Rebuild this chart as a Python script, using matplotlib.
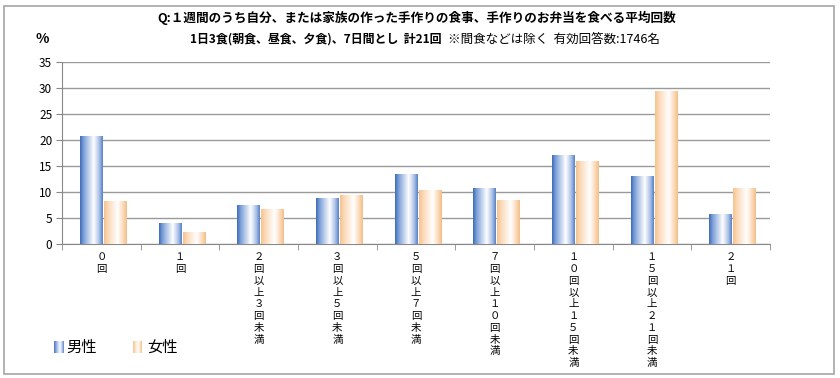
import numpy as np
import matplotlib
matplotlib.use("Agg")
import matplotlib.pyplot as plt
from matplotlib.colors import LinearSegmentedColormap
from matplotlib.patches import Rectangle

plt.rcParams['font.family'] = ['Noto Sans CJK JP', 'DejaVu Sans']

categories = ["０回", "１回", "２回以上３回未満", "３回以上５回未満", "５回以上７回未満",
              "７回以上１０回未満", "１０回以上１５回未満", "１５回以上２１回未満", "２１回"]
male = [20.6, 3.9, 7.5, 8.8, 13.4, 10.6, 17.1, 12.9, 5.7]
female = [8.1, 2.3, 6.7, 9.4, 10.2, 8.4, 15.8, 29.4, 10.6]
series_names = ["男性", "女性"]
yticks = [0, 5, 10, 15, 20, 25, 30, 35]

W, H = 840, 378
fig = plt.figure(figsize=(W / 100, H / 100), dpi=100)
fig.patch.set_facecolor("white")

# outer frame
fig.add_artist(Rectangle((4 / W, 4 / H), 830 / W, 368 / H, transform=fig.transFigure,
                         fill=False, edgecolor="#a6a6a6", lw=1.2))

ax = fig.add_axes([62 / W, 1 - 244 / H, (770 - 62) / W, (244 - 62) / H])

x = np.arange(len(categories))
bw = 0.28
bars_m = ax.bar(x - bw / 2 - 0.012 + 0.02, male, width=bw, color="none", edgecolor="none", zorder=3)
bars_f = ax.bar(x + bw / 2 + 0.012 + 0.02, female, width=bw, color="none", edgecolor="none", zorder=3)

cm_m = LinearSegmentedColormap.from_list("m", [(0, "#3f6cb6"), (0.15, "#7b9fd8"), (0.6, "#ffffff"), (0.85, "#a9c0e6"), (1.0, "#5581c6")])
cm_f = LinearSegmentedColormap.from_list("f", [(0, "#f6c28f"), (0.2, "#fbdcbc"), (0.6, "#ffffff"), (0.85, "#fbd9b6"), (1.0, "#f4bd88")])
grad = np.linspace(0, 1, 64).reshape(1, -1)

for bars, cm in ((bars_m, cm_m), (bars_f, cm_f)):
    for b in bars:
        x0, y0 = b.get_x(), b.get_y()
        w, h = b.get_width(), b.get_height()
        ax.imshow(grad, cmap=cm, extent=(x0, x0 + w, y0, y0 + h), aspect="auto",
                  interpolation="bicubic", zorder=3)

ax.set_xlim(-0.5, len(categories) - 0.5)
ax.set_ylim(0, 35)
ax.set_yticks(yticks)
ax.tick_params(axis="y", labelsize=8.5, length=4, color="#888888", pad=3)
ax.yaxis.grid(True, color="#9a9a9a", lw=1)
ax.set_axisbelow(True)
for s in ("top", "right"):
    ax.spines[s].set_visible(False)
ax.spines["left"].set_color("#888888")
ax.spines["bottom"].set_color("#888888")

ax.set_xticks(x)
ax.set_xticklabels(["\n".join(c) for c in categories], fontsize=7.5, linespacing=1.22, va="top")
ax.tick_params(axis="x", length=0, pad=6)
ax.set_xticks(np.arange(-0.5, len(categories)), minor=True)
ax.tick_params(axis="x", which="minor", length=4, color="#888888")

# titles
fig.text(417 / W, 1 - 18 / H, "Q:１週間のうち自分、または家族の作った手作りの食事、手作りのお弁当を食べる平均回数",
         ha="center", va="center", fontsize=9.1, fontweight="bold")
fig.text(442 / W, 1 - 39 / H, "1日3食(朝食、昼食、夕食)、7日間とし  計21回",
         ha="right", va="center", fontsize=8.6, fontweight="bold")
fig.text(448 / W, 1 - 39 / H, "※間食などは除く  有効回答数:1746名",
         ha="left", va="center", fontsize=9)
fig.text(42 / W, 1 - 39 / H, "%", ha="center", va="center", fontsize=10, fontweight="bold")

# legend
for (mx, tx, cm, name) in ((54, 66, cm_m, series_names[0]), (133, 147, cm_f, series_names[1])):
    lax = fig.add_axes([mx / W, 1 - 353 / H, 9 / W, 12 / H])
    lax.imshow(grad, cmap=cm, aspect="auto", interpolation="bicubic")
    lax.axis("off")
    fig.text(tx / W, 1 - 347 / H, name, ha="left", va="center", fontsize=11)

fig.savefig("out.png", dpi=100, facecolor="white")
